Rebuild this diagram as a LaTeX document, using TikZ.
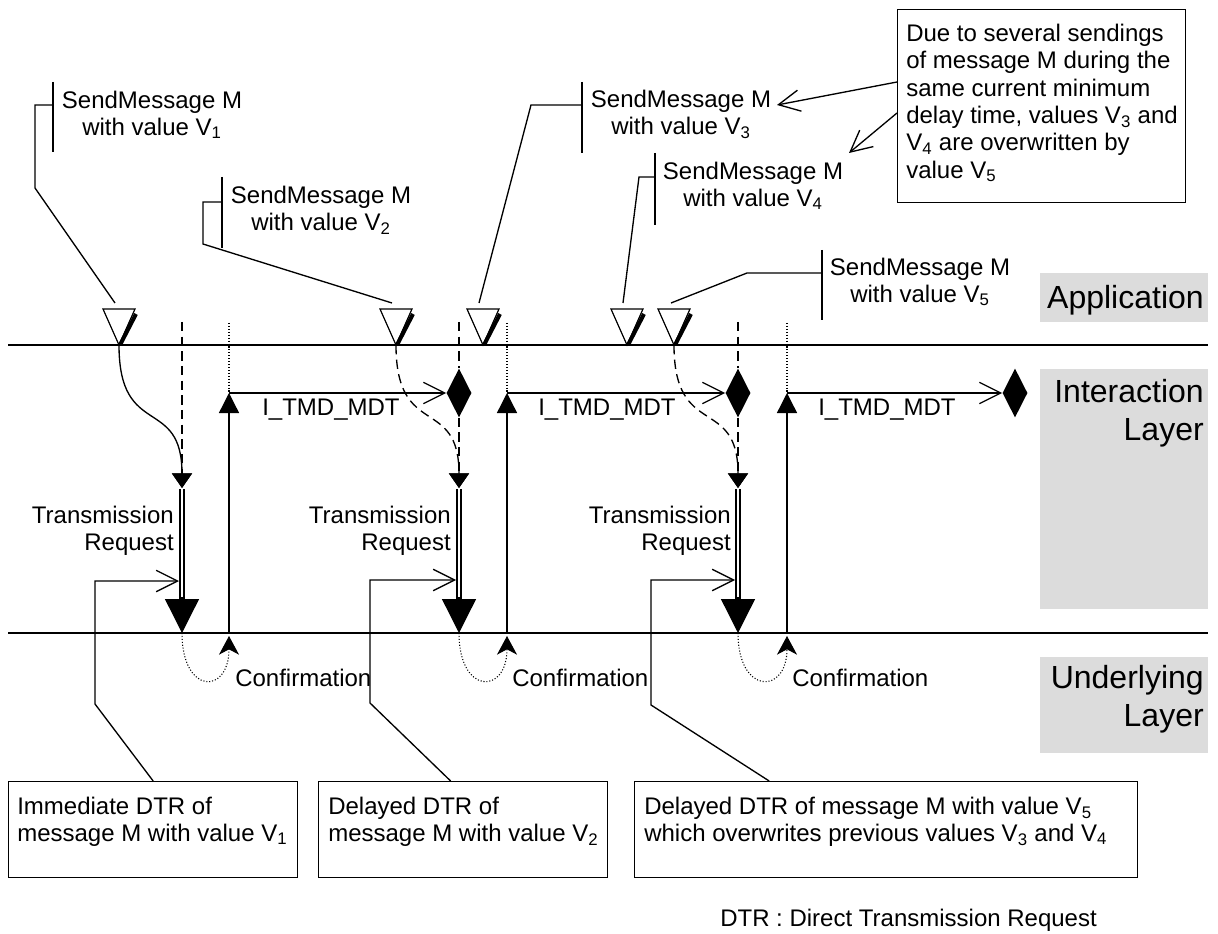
\documentclass[tikz,border=0pt]{standalone}
\usepackage{fontspec}
\setmainfont{Liberation Sans}
\usetikzlibrary{arrows.meta,shapes.geometric,calc}
\definecolor{layergray}{RGB}{220,220,220}
\tikzset{
  ln/.style={line width=1pt},
  sepline/.style={line width=1.2pt},
  dashln/.style={line width=1pt, dash pattern=on 7pt off 4pt},
  dotln/.style={line width=0.8pt, dash pattern=on 0.8pt off 1.4pt},
  openhead/.style={-{Straight Barb[length=16pt,width=16pt]}},
  smallhead/.style={-{Triangle[length=11pt,width=15pt]}},
  uphead/.style={-{Triangle[length=15pt,width=15pt]}},
  bighead/.style={-{Triangle[length=25.5pt,width=25.5pt]}},
  confhead/.style={-{Stealth[length=14pt,width=15pt,inset=4pt]}},
  txt/.style={font=\fontsize{18}{20}\selectfont, inner sep=0pt},
  bigtxt/.style={font=\fontsize{24}{28.5}\selectfont, inner sep=0pt},
  dmd/.style={diamond, fill=black, inner sep=0pt, minimum width=18.75pt, minimum height=36.75pt},
  dbl/.style={line width=1.3pt, double=white, double distance=2pt},
  boxnode/.style={draw, line width=1pt, inner sep=0pt},
  layerbg/.style={fill=layergray, inner sep=0pt},
  sendtri/.pic={
    \draw[line width=0.9pt, line join=miter] (-16,-36) -- (16,-36) -- (0,0) -- cycle;
    \draw[line width=3pt] (17,-31) -- (1.5,-1);
  }
}
\begin{document}
\begin{tikzpicture}[x=0.75pt,y=-0.75pt]
\useasboundingbox (0,0) rectangle (1218,934);

% layer backgrounds and labels
\node[layerbg, anchor=north west, minimum width=126pt, minimum height=36.75pt] (appbg) at (1040,273) {};
\node[layerbg, anchor=north west, minimum width=126pt, minimum height=180pt] (intbg) at (1040,369) {};
\node[layerbg, anchor=north west, minimum width=126pt, minimum height=72pt] (undbg) at (1040,657) {};
\node[bigtxt, anchor=base east] (applbl) at (1204,308.5) {Application};
\node[bigtxt, anchor=north east, align=right] (intlbl) at (1204,379) {Interaction\\Layer};
\node[bigtxt, anchor=north east, align=right] (undlbl) at (1204,665) {Underlying\\Layer};

% layer separators
\coordinate (L1a) at (8,345); \coordinate (L1b) at (1208,345);
\coordinate (L2a) at (8,633); \coordinate (L2b) at (1208,633);
\draw[sepline] (L1a) -- (L1b);
\draw[sepline] (L2a) -- (L2b);

% send triangles
\foreach \n/\x in {1/119,2/396,3/483,4/627,5/674}{
  \coordinate (t\n) at (\x,345);
  \pic at (t\n) {sendtri};
}

% SendMessage labels
\node[txt, anchor=north, align=center] (sm1) at (152,91) {SendMessage M\\with value V\textsubscript{1}};
\node[txt, anchor=north, align=center] (sm2) at (321,186) {SendMessage M\\with value V\textsubscript{2}};
\node[txt, anchor=north, align=center] (sm3) at (681,90) {SendMessage M\\with value V\textsubscript{3}};
\node[txt, anchor=north, align=center] (sm4) at (753,162) {SendMessage M\\with value V\textsubscript{4}};
\node[txt, anchor=north, align=center] (sm5) at (920,258) {SendMessage M\\with value V\textsubscript{5}};

\draw[ln] (53,82) -- (53,152);
\draw[ln] (222,177) -- (222,248);
\draw[ln] (582,82) -- (582,153);
\draw[ln] (655,153) -- (655,225);
\draw[ln] (822,250) -- (822,320);

\coordinate (s1) at (53,105);  \coordinate (e1) at (115,303);
\coordinate (s2) at (222,202); \coordinate (e2) at (392,303);
\coordinate (s3) at (582,105); \coordinate (e3) at (479,303);
\coordinate (s4) at (655,177); \coordinate (e4) at (623,303);
\coordinate (s5) at (822,273); \coordinate (e5) at (671,303);
\draw[ln] (s1) -| (35,188) -- (e1);
\draw[ln] (s2) -| (203,244) -- (e2);
\draw[ln] (s3) -- (531,105) -- (e3);
\draw[ln] (s4) -- (639,177) -- (e4);
\draw[ln] (s5) -- (747,273) -- (e5);

% note box
\node[boxnode, anchor=north west, minimum width=216pt, minimum height=144.75pt] (note) at (897,9) {};
\node[txt, anchor=north west, align=left, font=\fontsize{18}{20.5}\selectfont] (notetxt) at (906,24)
  {Due to several sendings\\of message M during the\\same current minimum\\delay time, values V\textsubscript{3} and\\V\textsubscript{4} are overwritten by\\value V\textsubscript{5}};
\coordinate (n1) at (897,82);  \coordinate (n1e) at (777,105);
\coordinate (n2) at (897,113); \coordinate (n2e) at (849,153);
\draw[ln, openhead] (n1) -- (n1e);
\draw[ln, openhead] (n2) -- (n2e);

% diamonds
\node[dmd] (dB) at (459,393) {};
\node[dmd] (dC) at (738,393) {};
\node[dmd] (dD) at (1015,393) {};

% ---------- column A ----------
\coordinate (dA) at (182,322); \coordinate (trA) at (182,488);
\coordinate (bA) at (182,633);
\coordinate (oA) at (229,323); \coordinate (uA) at (229,393);
\coordinate (lA) at (229,633); \coordinate (cA) at (229,636);
\draw[dashln, smallhead] (dA) -- (trA);
\draw[ln, smallhead] (t1) .. controls (119,440) and (182,395) .. (trA);
\draw[dbl] (182,489) -- (182,600);
\draw[ln, bighead] (182,597) -- (bA);
\draw[dotln] (oA) -- (uA);
\draw[ln, uphead] (lA) -- (uA);
\draw[ln, openhead] (uA) -- (dB.west);
\draw[dotln, confhead] (bA) .. controls (182,695) and (229,695) .. (cA);
\node[txt, anchor=north east, align=right] (trqA) at (174,506) {Transmission\\Request};
\node[txt, anchor=base west] (cfA) at (235,686) {Confirmation};
\node[txt, anchor=base west] (mdtA) at (262,416) {I\_TMD\_MDT};

% ---------- column B ----------
\coordinate (dBt) at (459,322); \coordinate (trB) at (459,488);
\coordinate (bB) at (459,633);
\coordinate (oB) at (507,323); \coordinate (uB) at (507,393);
\coordinate (lB) at (507,633); \coordinate (cB) at (507,636);
\draw[dashln] (dBt) -- (dB.north);
\draw[dashln, smallhead] (dB.south) -- (trB);
\draw[dashln, smallhead] (t2) .. controls (396,440) and (459,395) .. (trB);
\draw[dbl] (459,489) -- (459,600);
\draw[ln, bighead] (459,597) -- (bB);
\draw[dotln] (oB) -- (uB);
\draw[ln, uphead] (lB) -- (uB);
\draw[ln, openhead] (uB) -- (dC.west);
\draw[dotln, confhead] (bB) .. controls (459,695) and (507,695) .. (cB);
\node[txt, anchor=north east, align=right] (trqB) at (451,506) {Transmission\\Request};
\node[txt, anchor=base west] (cfB) at (512,686) {Confirmation};
\node[txt, anchor=base west] (mdtB) at (538,416) {I\_TMD\_MDT};

% ---------- column C ----------
\coordinate (dCt) at (738,322); \coordinate (trC) at (738,488);
\coordinate (bC) at (738,633);
\coordinate (oC) at (787,323); \coordinate (uC) at (787,393);
\coordinate (lC) at (787,633); \coordinate (cC) at (787,636);
\draw[dashln] (dCt) -- (dC.north);
\draw[dashln, smallhead] (dC.south) -- (trC);
\draw[dashln, smallhead] (t5) .. controls (674,440) and (738,395) .. (trC);
\draw[dbl] (738,489) -- (738,600);
\draw[ln, bighead] (738,597) -- (bC);
\draw[dotln] (oC) -- (uC);
\draw[ln, uphead] (lC) -- (uC);
\draw[ln, openhead] (uC) -- (dD.west);
\draw[dotln, confhead] (bC) .. controls (738,695) and (787,695) .. (cC);
\node[txt, anchor=north east, align=right] (trqC) at (731,506) {Transmission\\Request};
\node[txt, anchor=base west] (cfC) at (792,686) {Confirmation};
\node[txt, anchor=base west] (mdtC) at (818,416) {I\_TMD\_MDT};

% DTR boxes
\node[boxnode, anchor=north west, minimum width=216.75pt, minimum height=72pt] (dtr1) at (8,781) {};
\node[txt, anchor=north west, align=left] (dtr1t) at (17,797) {Immediate DTR of\\message M with value V\textsubscript{1}};
\node[boxnode, anchor=north west, minimum width=216.75pt, minimum height=72pt] (dtr2) at (318,781) {};
\node[txt, anchor=north west, align=left] (dtr2t) at (328,797) {Delayed DTR of\\message M with value V\textsubscript{2}};
\node[boxnode, anchor=north west, minimum width=377.25pt, minimum height=72pt] (dtr3) at (634,781) {};
\node[txt, anchor=north west, align=left] (dtr3t) at (644,797) {Delayed DTR of message M with value V\textsubscript{5}\\which overwrites previous values V\textsubscript{3} and V\textsubscript{4}};

\coordinate (pA) at (179,581);
\coordinate (pB) at (456,580);
\coordinate (pC) at (735,580);
\draw[ln, openhead] (dtr1.north) -- (95,704) -- (95,581) -- (pA);
\draw[ln, openhead] ([xshift=-9.4pt]dtr2.north) -- (370,703) -- (370,580) -- (pB);
\draw[ln, openhead] ([xshift=-87.75pt]dtr3.north) -- (651,705) -- (651,580) -- (pC);

% footnote
\node[txt, anchor=base west] (foot) at (720,926.5) {DTR : Direct Transmission Request};
\end{tikzpicture}
\end{document}
